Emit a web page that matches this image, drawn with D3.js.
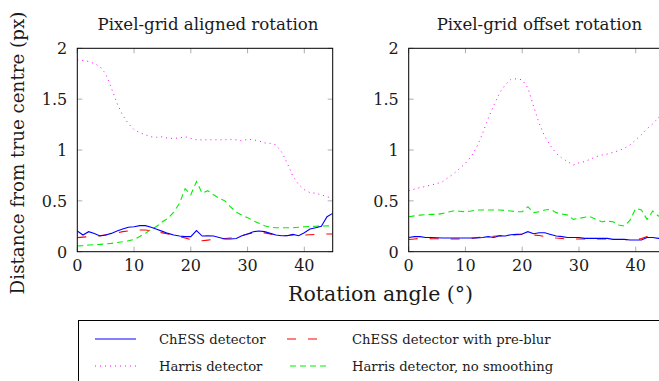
<!DOCTYPE html>
<html>
<head>
<meta charset="utf-8">
<script src="https://cdn.jsdelivr.net/npm/d3@7"></script>
<style>
  body { margin: 0; background: #fff; }
  svg { display: block; }
  text { font-family: "DejaVu Serif", "Liberation Serif", serif; fill: #1a1a1a; }
</style>
</head>
<body>
<div class="vis-chart"></div>
<script>
// rotation angle in degrees, 1 degree steps
const angles = d3.range(0, 46);

const seriesNames = ['ChESS detector', 'ChESS detector with pre-blur', 'Harris detector', 'Harris detector, no smoothing'];
const panelTitles = ['Pixel-grid aligned rotation', 'Pixel-grid offset rotation'];
const xTicks = [0, 10, 20, 30, 40];
const yTicks = [0, 0.5, 1, 1.5, 2];

// left panel: pixel-grid aligned
const alignedChess = [0.203,0.164,0.197,0.18,0.154,0.164,0.18,0.203,0.223,0.24,0.246,0.256,0.256,0.24,0.22,0.2,0.18,0.164,0.154,0.148,0.148,0.207,0.154,0.157,0.154,0.14,0.125,0.125,0.13,0.157,0.174,0.197,0.203,0.197,0.18,0.164,0.157,0.157,0.17,0.157,0.187,0.223,0.236,0.25,0.344,0.377];
const alignedChessBlur = [0.138,0.143,0.148,0.152,0.157,0.165,0.174,0.185,0.197,0.205,0.213,0.213,0.213,0.205,0.197,0.185,0.174,0.16,0.148,0.134,0.12,0.114,0.108,0.114,0.12,0.125,0.13,0.135,0.14,0.157,0.174,0.185,0.197,0.185,0.174,0.165,0.157,0.16,0.164,0.164,0.164,0.167,0.17,0.172,0.174,0.174];
const alignedHarris = [1.885,1.88,1.87,1.85,1.82,1.75,1.61,1.46,1.34,1.26,1.2,1.17,1.15,1.13,1.125,1.13,1.115,1.115,1.12,1.13,1.115,1.1,1.1,1.1,1.1,1.1,1.1,1.105,1.1,1.09,1.105,1.1,1.09,1.07,1.065,1.05,0.98,0.87,0.74,0.66,0.61,0.58,0.575,0.56,0.54,0.525];
const alignedHarrisRaw = [0.056,0.06,0.066,0.069,0.072,0.077,0.082,0.09,0.098,0.108,0.12,0.15,0.18,0.22,0.25,0.295,0.33,0.39,0.475,0.62,0.56,0.69,0.575,0.6,0.56,0.525,0.5,0.44,0.39,0.36,0.335,0.305,0.28,0.255,0.24,0.236,0.236,0.236,0.236,0.24,0.245,0.248,0.25,0.252,0.255,0.252];

// right panel: pixel-grid offset
const offsetChess = [0.14,0.148,0.148,0.14,0.14,0.137,0.134,0.134,0.134,0.134,0.134,0.134,0.134,0.14,0.148,0.14,0.157,0.155,0.167,0.17,0.174,0.197,0.177,0.187,0.187,0.17,0.154,0.148,0.14,0.14,0.14,0.131,0.131,0.131,0.131,0.131,0.121,0.121,0.121,0.115,0.115,0.115,0.14,0.14,0.131,0.131];
const offsetChessBlur = [0.12,0.125,0.131,0.13,0.128,0.127,0.125,0.125,0.125,0.125,0.125,0.13,0.14,0.144,0.148,0.152,0.157,0.16,0.164,0.167,0.17,0.167,0.164,0.16,0.148,0.14,0.134,0.13,0.125,0.125,0.125,0.125,0.125,0.125,0.125,0.125,0.12,0.12,0.12,0.118,0.115,0.13,0.148,0.148,0.148,0.148];
const offsetHarris = [0.6,0.615,0.63,0.643,0.656,0.67,0.69,0.73,0.77,0.82,0.87,0.934,1.03,1.16,1.31,1.44,1.56,1.64,1.695,1.7,1.69,1.61,1.43,1.26,1.13,1.04,0.967,0.92,0.885,0.852,0.875,0.885,0.91,0.934,0.95,0.96,0.977,0.993,1.016,1.05,1.1,1.15,1.21,1.256,1.32,1.36];
const offsetHarrisRaw = [0.344,0.352,0.36,0.364,0.367,0.367,0.377,0.39,0.403,0.398,0.393,0.4,0.41,0.41,0.41,0.41,0.41,0.405,0.4,0.393,0.393,0.443,0.384,0.393,0.41,0.416,0.384,0.37,0.36,0.318,0.328,0.338,0.344,0.318,0.295,0.3,0.295,0.262,0.252,0.31,0.426,0.41,0.318,0.4,0.35,0.377];

const styles = [
    { color: '#0000ff', dash: null, width: 1.1, legendX: 95, legendLen: 41 },
    { color: '#ff0000', dash: '9,12', width: 1.1, legendX: 287, legendLen: 30 },
    { color: '#ff00ff', dash: '1,4', width: 1, legendX: 95, legendLen: 41 },
    { color: '#00ee00', dash: '6,4', width: 1.1, legendX: 290, legendLen: 38 }
];

const panels = [
    { title: panelTitles[0], left: 77.3, series: [alignedChess, alignedChessBlur, alignedHarris, alignedHarrisRaw] },
    { title: panelTitles[1], left: 408.7, series: [offsetChess, offsetChessBlur, offsetHarris, offsetHarrisRaw] }
];

const W = 659, H = 381;
const plotW = 255.4, plotTop = 48.3, plotBottom = 251.7;

const svg = d3.select('.vis-chart')
    .append('svg')
    .attr('width', W)
    .attr('height', H);

const y = d3.scaleLinear().domain([0, 2]).range([plotBottom, plotTop]);

panels.forEach(function (p, pi) {
    const x = d3.scaleLinear().domain([0, 45]).range([p.left, p.left + plotW]);
    const g = svg.append('g');

    // inward grey ticks on all four sides
    const tickLen = 5;
    g.selectAll('.xt').data(xTicks).enter().append('path')
        .attr('d', d => 'M' + x(d) + ',' + plotBottom + 'v' + (-tickLen) + 'M' + x(d) + ',' + plotTop + 'v' + tickLen)
        .attr('stroke', '#999').attr('stroke-width', 0.8);
    g.selectAll('.yt').data(yTicks).enter().append('path')
        .attr('d', d => 'M' + p.left + ',' + y(d) + 'h' + tickLen + 'M' + (p.left + plotW) + ',' + y(d) + 'h' + (-tickLen))
        .attr('stroke', '#999').attr('stroke-width', 0.8);

    const clipId = 'clip' + pi;
    svg.append('clipPath').attr('id', clipId)
        .append('rect').attr('x', p.left).attr('y', plotTop).attr('width', plotW).attr('height', plotBottom - plotTop);

    const line = d3.line()
        .x((d, i) => x(angles[i]))
        .y(d => y(d));

    // draw in order: green, pink, red, blue (blue on top)
    [3, 2, 1, 0].forEach(function (si) {
        const s = styles[si];
        g.append('path')
            .attr('clip-path', 'url(#' + clipId + ')')
            .attr('d', line(p.series[si]))
            .attr('fill', 'none')
            .attr('stroke', s.color)
            .attr('stroke-width', s.width)
            .attr('stroke-dasharray', s.dash);
    });

    // frame
    g.append('rect')
        .attr('x', p.left).attr('y', plotTop)
        .attr('width', plotW).attr('height', plotBottom - plotTop)
        .attr('fill', 'none').attr('stroke', '#000').attr('stroke-width', 1);

    // tick labels
    g.selectAll('.xl').data(xTicks).enter().append('text')
        .attr('x', d => x(d)).attr('y', plotBottom + 19)
        .attr('text-anchor', 'middle')
        .style('font-size', '16px')
        .text(d => d);
    g.selectAll('.yl').data(yTicks).enter().append('text')
        .attr('x', p.left - 10).attr('y', d => y(d) + 6)
        .attr('text-anchor', 'end')
        .style('font-size', '16px')
        .text(d => d);

    g.append('text')
        .attr('x', p.left + plotW / 2 + 3).attr('y', 30)
        .attr('text-anchor', 'middle')
        .style('font-size', '16.6px')
        .text(p.title);
});

// axis titles
svg.append('text')
    .attr('x', 380.5).attr('y', 301)
    .attr('text-anchor', 'middle')
    .style('font-size', '20.5px')
    .text('Rotation angle (°)');

svg.append('text')
    .attr('transform', 'translate(24,153) rotate(-90)')
    .attr('text-anchor', 'middle')
    .style('font-size', '18.3px')
    .text('Distance from true centre (px)');

// legend
const legend = svg.append('g');
legend.append('rect')
    .attr('x', 78.5).attr('y', 320.5)
    .attr('width', 620).attr('height', 100)
    .attr('fill', 'none').attr('stroke', '#000').attr('stroke-width', 1);

const legendG = legend.selectAll('.legend')
    .data(seriesNames)
    .enter().append('g')
    .attr('transform', (d, i) => 'translate(0,' + (i < 2 ? 339 : 366) + ')');

legendG.append('line')
    .attr('x1', (d, i) => styles[i].legendX)
    .attr('x2', (d, i) => styles[i].legendX + styles[i].legendLen)
    .attr('stroke', (d, i) => styles[i].color)
    .attr('stroke-width', (d, i) => styles[i].width)
    .attr('stroke-dasharray', (d, i) => styles[i].dash);

legendG.append('text')
    .attr('x', (d, i) => i % 2 === 0 ? 159 : 352).attr('y', 5)
    .style('font-size', '13.2px')
    .text(d => d);
</script>
</body>
</html>
